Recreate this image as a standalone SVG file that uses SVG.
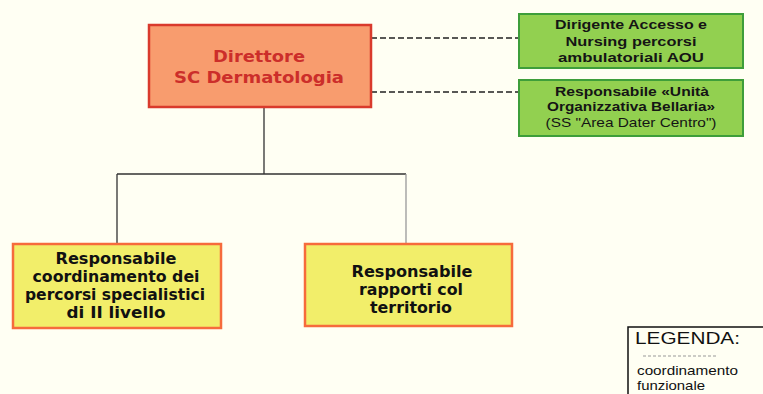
<svg xmlns="http://www.w3.org/2000/svg" width="763" height="394" viewBox="0 0 763 394">
<style>
.dir{fill:#F89C6E;stroke:#D93A2C;stroke-width:2.5}
.grn{fill:#92D050;stroke:#3E9E3A;stroke-width:2}
.yel{fill:#F2EE6A;stroke:#F66B3C;stroke-width:2.5}
.tdir{font-family:"DejaVu Sans",Verdana,sans-serif;font-weight:bold;font-size:16px;fill:#CC2E2A;text-anchor:middle}
.tg{font-family:"Liberation Sans",Arial,sans-serif;font-weight:bold;font-size:13.5px;fill:#151515;text-anchor:middle}
.tgn{font-family:"Liberation Sans",Arial,sans-serif;font-size:13.5px;fill:#151515;text-anchor:middle}
.ty{font-family:"DejaVu Sans",Verdana,sans-serif;font-weight:bold;font-size:15.5px;fill:#111;text-anchor:middle}
.tl{font-family:"Liberation Sans",Arial,sans-serif;fill:#111}
.ln{stroke:#333;stroke-width:1.3;fill:none}
.dash{stroke:#222;stroke-width:1.5;stroke-dasharray:6 3;fill:none}
</style>
<rect width="763" height="394" fill="#FFFFF3"/>
<g id="connectors">
<path class="ln" d="M264 107V174M117 174H406M117 174V244"/>
<path d="M406 174V244" stroke="#999" stroke-width="1.3" fill="none"/>
<path class="dash" d="M371 38H519M371 92H519"/>
</g>
<g id="direttore">
<rect class="dir" x="149" y="25" width="222" height="82"/>
<text class="tdir" x="259" y="62" textLength="92" lengthAdjust="spacingAndGlyphs">Direttore</text>
<text class="tdir" x="259" y="83" textLength="170" lengthAdjust="spacingAndGlyphs">SC Dermatologia</text>
</g>
<g id="dirigente">
<rect class="grn" x="519" y="14" width="224" height="54"/>
<text class="tg" x="631" y="29" textLength="152" lengthAdjust="spacingAndGlyphs">Dirigente Accesso e</text>
<text class="tg" x="631" y="46" textLength="131" lengthAdjust="spacingAndGlyphs">Nursing percorsi</text>
<text class="tg" x="631" y="62" textLength="146" lengthAdjust="spacingAndGlyphs">ambulatoriali AOU</text>
</g>
<g id="bellaria">
<rect class="grn" x="519" y="80" width="224" height="56"/>
<text class="tg" x="632" y="96" textLength="154" lengthAdjust="spacingAndGlyphs">Responsabile «Unità</text>
<text class="tg" x="631" y="111" textLength="168" lengthAdjust="spacingAndGlyphs">Organizzativa Bellaria»</text>
<text class="tgn" x="631" y="127" textLength="171" lengthAdjust="spacingAndGlyphs">(SS "Area Dater Centro")</text>
</g>
<g id="coordinamento">
<rect class="yel" x="13" y="244" width="208" height="84"/>
<text class="ty" x="116" y="264" textLength="121" lengthAdjust="spacingAndGlyphs">Responsabile</text>
<text class="ty" x="116" y="282" textLength="167" lengthAdjust="spacingAndGlyphs">coordinamento dei</text>
<text class="ty" x="115" y="300" textLength="180" lengthAdjust="spacingAndGlyphs">percorsi specialistici</text>
<text class="ty" x="116" y="318" textLength="99" lengthAdjust="spacingAndGlyphs">di II livello</text>
</g>
<g id="territorio">
<rect class="yel" x="305" y="244" width="207" height="82"/>
<text class="ty" x="412" y="277" textLength="121" lengthAdjust="spacingAndGlyphs">Responsabile</text>
<text class="ty" x="411" y="295" textLength="104" lengthAdjust="spacingAndGlyphs">rapporti col</text>
<text class="ty" x="411" y="313" textLength="82" lengthAdjust="spacingAndGlyphs">territorio</text>
</g>
<g id="legenda">
<rect x="628" y="327" width="140" height="80" fill="#FFFFF3" stroke="#111" stroke-width="1.5"/>
<text class="tl" x="635" y="344" font-size="17" textLength="105" lengthAdjust="spacingAndGlyphs">LEGENDA:</text>
<path d="M643 356H718" stroke="#999" stroke-width="1" stroke-dasharray="3 2"/>
<text class="tl" x="637" y="375" font-size="13" textLength="101" lengthAdjust="spacingAndGlyphs">coordinamento</text>
<text class="tl" x="637" y="390" font-size="13" textLength="68" lengthAdjust="spacingAndGlyphs">funzionale</text>
</g>
</svg>
